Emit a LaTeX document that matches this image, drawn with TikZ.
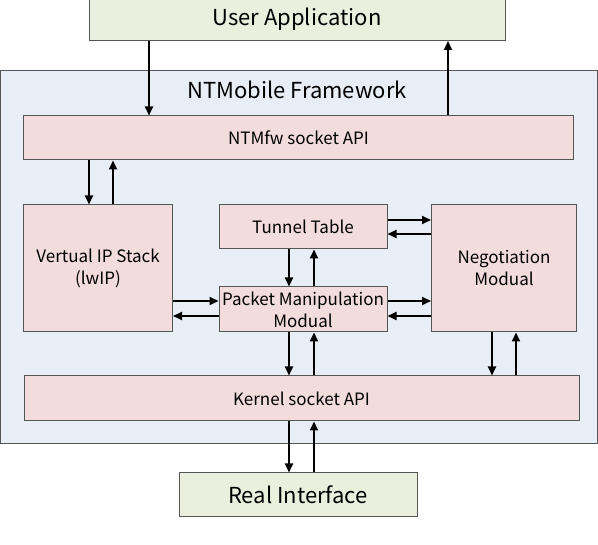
\documentclass[tikz,border=0pt]{standalone}
\usepackage{fontspec}
\setmainfont{Noto Sans CJK JP}
\usetikzlibrary{arrows.meta}
\definecolor{appfill}{RGB}{235,240,222}
\definecolor{fwfill}{RGB}{232,238,245}
\definecolor{modfill}{RGB}{242,220,220}
\definecolor{edge}{RGB}{85,85,85}
\tikzset{
  box/.style={draw=edge, line width=1pt, rectangle, inner sep=0pt, align=center},
  bigtext/.style={font=\fontsize{22}{24}\selectfont},
  outer/.style={box, fill=appfill, bigtext},
  mod/.style={box, fill=modfill, font=\fontsize{17}{22}\selectfont},
  arr/.style={line width=2pt, -{Triangle[length=9pt,width=8pt]}}
}
\begin{document}
\begin{tikzpicture}[x=1pt,y=-1pt]
\useasboundingbox (0,0) rectangle (598,545);
\clip (0,0) rectangle (598,545);
% framework container
\node[box, fill=fwfill, minimum width=597pt, minimum height=373pt, anchor=north west] (fw) at (0,70) {};
\node[bigtext, anchor=center] (fwt) at (297,90) {NTMobile Framework};
% outer boxes
\node[outer, minimum width=416pt, minimum height=52pt, anchor=south west] (ua) at (89,41) {};
\node[bigtext] (uat) at (297,19) {User Application};
\node[outer, minimum width=238pt, minimum height=44pt] (ri) at (298,495) {Real Interface};
% modules
\node[mod, minimum width=550pt, minimum height=44pt] (api) at (298.5,138) {NTMfw socket API};
\node[mod, minimum width=149pt, minimum height=127pt] (vip) at (98,268.5) {Vertual IP Stack\\(lwIP)};
\node[mod, minimum width=168pt, minimum height=44pt] (tt) at (303,227) {Tunnel Table};
\node[mod, minimum width=168pt, minimum height=45pt] (pm) at (303,309.5) {Packet Manipulation\\Modual};
\node[mod, minimum width=145pt, minimum height=127pt] (neg) at (504,268.5) {Negotiation\\Modual};
\node[mod, minimum width=555pt, minimum height=45pt] (ks) at (301.5,398.5) {Kernel socket API};
% x positions
\coordinate (xa) at (149,0);
\coordinate (xb) at (448,0);
\coordinate (xc) at (89,0);
\coordinate (xd) at (113,0);
\coordinate (xe) at (289,0);
\coordinate (xf) at (314,0);
\coordinate (xg) at (492,0);
\coordinate (xh) at (516,0);
\coordinate (y1) at (0,220);
\coordinate (y2) at (0,234);
\coordinate (y3) at (0,301);
\coordinate (y4) at (0,316);
% arrows
\draw[arr] (ua.south -| xa) -- (api.north -| xa);
\draw[arr] (api.north -| xb) -- (ua.south -| xb);
\draw[arr] (api.south -| xc) -- (vip.north -| xc);
\draw[arr] (vip.north -| xd) -- (api.south -| xd);
\draw[arr] (tt.east |- y1) -- (neg.west |- y1);
\draw[arr] (neg.west |- y2) -- (tt.east |- y2);
\draw[arr] (pm.east |- y3) -- (neg.west |- y3);
\draw[arr] (neg.west |- y4) -- (pm.east |- y4);
\draw[arr] (vip.east |- y3) -- (pm.west |- y3);
\draw[arr] (pm.west |- y4) -- (vip.east |- y4);
\draw[arr] (tt.south -| xe) -- (pm.north -| xe);
\draw[arr] (pm.north -| xf) -- (tt.south -| xf);
\draw[arr] (pm.south -| xe) -- (ks.north -| xe);
\draw[arr] (ks.north -| xf) -- (pm.south -| xf);
\draw[arr] (neg.south -| xg) -- (ks.north -| xg);
\draw[arr] (ks.north -| xh) -- (neg.south -| xh);
\draw[arr] (ks.south -| xe) -- (ri.north -| xe);
\draw[arr] (ri.north -| xf) -- (ks.south -| xf);
\end{tikzpicture}
\end{document}
